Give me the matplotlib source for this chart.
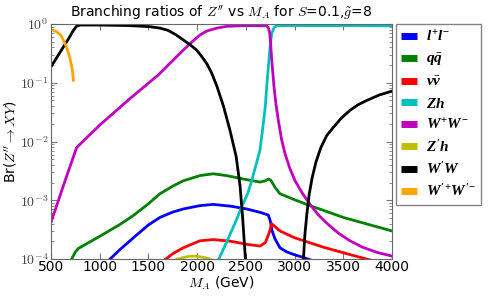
import numpy as np
import matplotlib
matplotlib.use("Agg")
import matplotlib.pyplot as plt
from matplotlib.lines import Line2D
from matplotlib.font_manager import FontProperties

plt.rcParams['mathtext.fontset'] = 'cm'
plt.rcParams['mathtext.it'] = 'Liberation Serif:italic:bold'
plt.rcParams['mathtext.rm'] = 'Liberation Serif:bold'
plt.rcParams['mathtext.bf'] = 'Liberation Serif:bold'
plt.rcParams['mathtext.cal'] = 'Liberation Serif:italic:bold'
plt.rcParams['mathtext.sf'] = 'Liberation Sans:bold'
plt.rcParams['font.family'] = ['DejaVu Sans']

# ---- data (M_A in GeV, branching ratios) ----
m_ll = [1050, 1088, 1200, 1345, 1500, 1618, 1750, 1857, 2029, 2166, 2350, 2509, 2650, 2730, 2750, 2770, 2799, 2850, 2920, 2987, 3100, 3190, 3260]
br_ll = [7.0e-5, 9.3e-5, 1.41e-4, 2.29e-4, 3.8e-4, 5.1e-4, 6.3e-4, 7.1e-4, 8.1e-4, 8.5e-4, 7.9e-4, 7.1e-4, 6.2e-4, 5.6e-4, 4.5e-4, 3.0e-4, 2.2e-4, 1.55e-4, 1.32e-4, 1.2e-4, 1.05e-4, 9.3e-5, 8.0e-5]

m_qq = [690, 712, 750, 780, 1003, 1200, 1345, 1500, 1618, 1750, 1857, 2029, 2166, 2300, 2509, 2645, 2700, 2730, 2755, 2775, 2799, 2850, 3000, 3142, 3500, 4000]
br_qq = [7.0e-5, 1.0e-4, 1.32e-4, 1.51e-4, 2.45e-4, 3.8e-4, 5.5e-4, 8.7e-4, 1.29e-3, 1.74e-3, 2.14e-3, 2.63e-3, 2.82e-3, 2.63e-3, 2.24e-3, 2.04e-3, 2.14e-3, 2.29e-3, 2.2e-3, 1.95e-3, 1.66e-3, 1.29e-3, 1.02e-3, 8.3e-4, 5.1e-4, 3.0e-4]

m_nn = [1620, 1653, 1750, 1857, 2029, 2166, 2350, 2509, 2645, 2700, 2740, 2765, 2800, 2850, 3000, 3300, 3600, 3810, 3900]
br_nn = [8.5e-5, 9.3e-5, 1.23e-4, 1.55e-4, 2.04e-4, 2.14e-4, 2.0e-4, 1.78e-4, 1.66e-4, 1.9e-4, 2.8e-4, 4.0e-4, 3.55e-4, 3.0e-4, 2.3e-4, 1.58e-4, 1.15e-4, 9.3e-5, 8.3e-5]

m_zh = [2190, 2214, 2300, 2400, 2456, 2520, 2560, 2600, 2645, 2675, 2700, 2714, 2730, 2745, 2765, 2790, 2816, 3000, 3500, 4000]
br_zh = [7.0e-5, 9.3e-5, 1.9e-4, 4.5e-4, 7.6e-4, 1.32e-3, 2.14e-3, 3.8e-3, 7.1e-3, 1.78e-2, 4.0e-2, 8.5e-2, 0.178, 0.355, 0.69, 0.87, 0.93, 0.94, 0.94, 0.93]

m_ww = [500, 644, 763, 1000, 1300, 1600, 1850, 1950, 2029, 2100, 2200, 2300, 2500, 2714, 2730, 2745, 2755, 2765, 2778, 2789, 2810, 2833, 2865, 2902, 2950, 3005, 3080, 3158, 3250, 3350, 3450, 3569, 3700, 3850, 4000]
br_ww = [4.2e-4, 2.14e-3, 7.9e-3, 1.9e-2, 5.2e-2, 1.35e-1, 3.5e-1, 0.50, 0.65, 0.76, 0.85, 0.91, 0.94, 0.93, 0.87, 0.71, 0.45, 0.25, 0.14, 8.5e-2, 4.2e-2, 2.3e-2, 1.12e-2, 6.2e-3, 3.55e-3, 2.14e-3, 1.32e-3, 8.5e-4, 5.5e-4, 3.8e-4, 2.75e-4, 2.04e-4, 1.58e-4, 1.29e-4, 1.12e-4]

m_zph = [1720, 1800, 1900, 1980, 2060, 2130, 2180]
br_zph = [8.5e-5, 1.0e-4, 1.1e-4, 1.12e-4, 1.07e-4, 1.0e-4, 8.9e-5]

m_wpw_lo = [500, 560, 620, 680, 730, 763, 800, 1000, 1300, 1516, 1620, 1700, 1780, 1855, 1930, 1995, 2050, 2100, 2150, 2201, 2270, 2337, 2400, 2440, 2465, 2497, 2510]
br_wpw_lo = [0.186, 0.27, 0.39, 0.56, 0.78, 0.92, 0.96, 0.96, 0.94, 0.90, 0.85, 0.78, 0.66, 0.54, 0.44, 0.36, 0.275, 0.21, 0.145, 0.089, 0.040, 0.0155, 5.6e-3, 1.78e-3, 5.6e-4, 9.3e-5, 5.0e-5]

m_wpw_hi = [3082, 3090, 3105, 3125, 3150, 3180, 3220, 3270, 3330, 3398, 3480, 3569, 3650, 3741, 3870, 4000]
br_wpw_hi = [5.0e-5, 9.3e-5, 2.5e-4, 5.6e-4, 1.26e-3, 2.4e-3, 4.5e-3, 7.9e-3, 1.26e-2, 1.74e-2, 2.5e-2, 3.4e-2, 4.2e-2, 5.0e-2, 6.2e-2, 7.2e-2]

m_wpwp = [500, 550, 600, 651, 692, 720, 730]
br_wpwp = [0.81, 0.75, 0.65, 0.44, 0.275, 0.162, 0.11]

labels = [r'$l^{+}l^{-}$', r'$q\bar{q}$', r'$\nu\bar{\nu}$',
          r'$Zh$', r'$W^{+}W^{-}$', r"$Z'h$",
          r"$W'W$", r"$W'^{+}W'^{-}$"]
colors = ['#0000ff', '#008000', '#ff0000', '#00bfbf', '#bf00bf', '#bfbf00', '#000000', '#ffa500']

xticks = [500, 1000, 1500, 2000, 2500, 3000, 3500, 4000]
yticks = [1e-4, 1e-3, 1e-2, 1e-1, 1e0]
yticklabels = [r'$10^{-4}$', r'$10^{-3}$', r'$10^{-2}$', r'$10^{-1}$', r'$10^{0}$']

# ---- figure ----
fig = plt.figure(figsize=(4.9, 2.97), dpi=100)
ax = fig.add_axes([51/490, 1-259/297, (392-51)/490, (259-24)/297])

lw = 2.0
series = [(m_ll, br_ll), (m_qq, br_qq), (m_nn, br_nn), (m_zh, br_zh), (m_ww, br_ww), (m_zph, br_zph)]
for (mx, by), c in zip(series, colors[:6]):
    ax.plot(mx, by, color=c, lw=lw)
ax.plot(m_wpw_lo, br_wpw_lo, color=colors[6], lw=lw)
ax.plot(m_wpw_hi, br_wpw_hi, color=colors[6], lw=lw)
ax.plot(m_wpwp, br_wpwp, color=colors[7], lw=lw)

ax.set_yscale('log')
ax.set_xlim(500, 4000)
ax.set_ylim(1e-4, 1)
ax.set_xticks(xticks)
ax.set_xticklabels([str(t) for t in xticks], fontsize=10)
ax.set_yticks(yticks)
ax.set_yticklabels(yticklabels, fontsize=10, color='#444444')
ax.tick_params(which='both', direction='in', top=True, right=True, color='#777777')
ax.tick_params(which='major', length=4, pad=2)
ax.tick_params(axis='x', which='major', pad=1)
ax.tick_params(which='minor', length=2)
for s in ax.spines.values():
    s.set_color('#666666')

ax.set_xlabel(r'$M_A$ (GeV)', fontsize=10, labelpad=0)
ax.set_ylabel(r"Br($Z''\rightarrow XY$)", fontsize=10, labelpad=1)
ax.set_title(r"Branching ratios of $Z''$ vs $M_A$ for $S$=0.1,$\tilde{g}$=8", fontsize=10, pad=6)

handles = [Line2D([0], [0], color=c, lw=5, solid_capstyle='butt') for c in colors]
legprop = FontProperties(size=11, math_fontfamily='custom')
leg = ax.legend(handles, labels, loc='upper left', bbox_to_anchor=(1.012, 1.0),
                prop=legprop, handlelength=1.0, handletextpad=0.6, labelspacing=0.42,
                borderaxespad=0, fancybox=False, frameon=True, borderpad=0.35)
leg.get_frame().set_edgecolor('#666666')
leg.get_frame().set_linewidth(1.0)

fig.savefig('out.png', dpi=100)
